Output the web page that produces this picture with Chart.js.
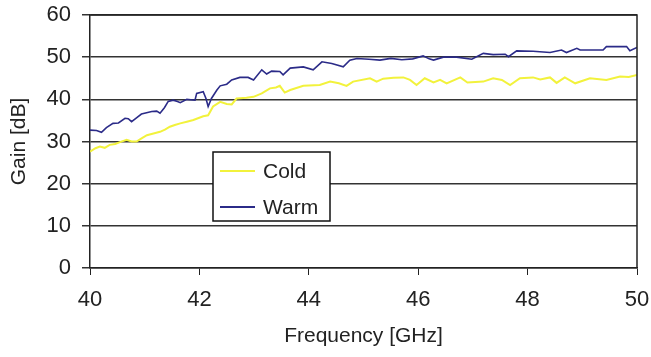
<!DOCTYPE html>
<html>
<head>
<meta charset="utf-8">
<script src="https://cdn.jsdelivr.net/npm/chart.js@4.4.1/dist/chart.umd.min.js"></script>
<style>
  html, body { margin: 0; padding: 0; background: #fff; }
  #wrap { width: 651px; height: 357px; position: relative; }
</style>
</head>
<body>
<div id="wrap"><canvas id="gain-canvas" width="651" height="357"></canvas></div>
<script>
// measured gain vs frequency
var warmFreq = [40.00, 40.12, 40.21, 40.30, 40.42, 40.52, 40.64, 40.70, 40.76, 40.85, 40.94, 41.13, 41.22, 41.28, 41.36,
    41.43, 41.52, 41.60, 41.65, 41.77, 41.92, 41.95, 42.07, 42.12, 42.16, 42.22, 42.32, 42.38, 42.50, 42.59, 42.74,
    42.89, 42.99, 43.14, 43.23, 43.32, 43.47, 43.53, 43.66, 43.90, 44.08, 44.24, 44.42, 44.63, 44.75, 44.88, 45.10,
    45.30, 45.50, 45.70, 45.90, 46.09, 46.20, 46.28, 46.46, 46.70, 46.98, 47.19, 47.37, 47.59, 47.65, 47.80, 48.10,
    48.41, 48.62, 48.71, 48.90, 48.96, 49.38, 49.44, 49.81, 49.87, 50.00];
var warmGain = [32.7, 32.6, 32.2, 33.3, 34.3, 34.4, 35.5, 35.4, 34.7, 35.6, 36.5, 37.1, 37.2, 36.7, 38.0,
    39.5, 39.8, 39.5, 39.2, 40.0, 39.8, 41.4, 41.8, 40.2, 38.3, 40.2, 42.2, 43.2, 43.6, 44.6, 45.2,
    45.2, 44.6, 47.0, 46.0, 46.7, 46.6, 45.8, 47.4, 47.7, 47.0, 48.9, 48.5, 47.7, 49.3, 49.7, 49.5,
    49.3, 49.7, 49.4, 49.6, 50.3, 49.6, 49.3, 50.0, 50.0, 49.5, 50.9, 50.6, 50.7, 50.1, 51.5, 51.4,
    51.1, 51.7, 51.1, 52.1, 51.7, 51.7, 52.5, 52.5, 51.5, 52.3];

var coldFreq = [40.00, 40.10, 40.18, 40.27, 40.36, 40.46, 40.56, 40.67, 40.76, 40.85, 40.95, 41.04, 41.16, 41.28, 41.37,
    41.46, 41.55, 41.65, 41.77, 41.89, 42.07, 42.16, 42.25, 42.38, 42.50, 42.59, 42.68, 42.86, 42.99, 43.14, 43.29,
    43.40, 43.47, 43.56, 43.66, 43.90, 44.20, 44.39, 44.55, 44.69, 44.81, 45.12, 45.24, 45.36, 45.55, 45.73, 45.85,
    45.97, 46.12, 46.28, 46.40, 46.52, 46.77, 46.90, 47.19, 47.37, 47.53, 47.68, 47.86, 48.10, 48.23, 48.41, 48.53,
    48.68, 48.87, 49.14, 49.44, 49.69, 49.85, 50.00];
var coldGain = [27.6, 28.4, 28.8, 28.5, 29.2, 29.4, 29.9, 30.4, 30.0, 30.0, 30.8, 31.5, 31.9, 32.3, 32.8,
    33.5, 33.9, 34.3, 34.7, 35.1, 36.0, 36.2, 38.3, 39.4, 38.9, 38.8, 40.2, 40.4, 40.6, 41.4, 42.6,
    42.8, 43.2, 41.6, 42.2, 43.2, 43.4, 44.2, 43.8, 43.2, 44.2, 45.0, 44.2, 44.9, 45.1, 45.2, 44.6,
    43.4, 45.0, 44.0, 44.6, 43.8, 45.2, 44.0, 44.2, 45.0, 44.6, 43.4, 45.0, 45.2, 44.7, 45.2, 43.9,
    45.2, 43.8, 45.0, 44.6, 45.4, 45.3, 45.8];

var seriesNames = ['Cold', 'Warm'];
var seriesColors = ['#f2f23c', '#2b2b88'];

var toPoints = (xs, ys) => xs.map((x, i) => ({ x: x, y: ys[i] }));

var family = '"Liberation Sans", Arial, sans-serif';
var tickFont = { family: family, size: 22 };
var titleFont = { family: family, size: 21 };

// frame round the plot area
var plotFrame = {
    id: 'plotFrame',
    afterDatasetsDraw(chart) {
        var a = chart.chartArea, ctx = chart.ctx;
        ctx.save();
        ctx.strokeStyle = '#222';
        ctx.lineWidth = 1.5;
        ctx.beginPath();
        ctx.moveTo(a.left, a.top);
        ctx.lineTo(a.right, a.top);
        ctx.lineTo(a.right, a.bottom);
        ctx.stroke();
        ctx.restore();
    }
};

// boxed legend sitting inside the plot
var boxLegend = {
    id: 'boxLegend',
    afterDraw(chart) {
        var ctx = chart.ctx;
        var x = 213, y = 152, w = 117, h = 69;
        ctx.save();
        ctx.fillStyle = '#fff';
        ctx.fillRect(x, y, w, h);
        ctx.strokeStyle = '#111';
        ctx.lineWidth = 1.5;
        ctx.strokeRect(x, y, w, h);
        ctx.font = '21px ' + family;
        ctx.textBaseline = 'middle';
        chart.data.datasets.forEach((ds, i) => {
            var ly = y + 19 + i * 36;
            ctx.strokeStyle = ds.borderColor;
            ctx.lineWidth = 2;
            ctx.beginPath();
            ctx.moveTo(x + 7, ly);
            ctx.lineTo(x + 42, ly);
            ctx.stroke();
            ctx.fillStyle = '#222';
            ctx.fillText(ds.label, x + 50, ly + 1);
        });
        ctx.restore();
    }
};

new Chart('gain-canvas', {
    type: 'line',
    data: {
        datasets: [
            { label: seriesNames[0], data: toPoints(coldFreq, coldGain), borderColor: seriesColors[0], borderWidth: 2 },
            { label: seriesNames[1], data: toPoints(warmFreq, warmGain), borderColor: seriesColors[1], borderWidth: 1.6 }
        ]
    },
    options: {
        responsive: false,
        animation: false,
        layout: { padding: { left: 0, right: 14, top: 15, bottom: 0 } },
        elements: { point: { radius: 0 }, line: { tension: 0 } },
        plugins: { legend: { display: false }, tooltip: { enabled: false } },
        scales: {
            x: {
                type: 'linear',
                min: 40, max: 50,
                ticks: { stepSize: 2, color: '#222', font: tickFont, padding: 12, maxRotation: 0 },
                grid: { drawOnChartArea: false, drawTicks: true, tickLength: 7, color: '#222' },
                border: { color: '#222', width: 1.5 },
                title: { display: true, text: 'Frequency [GHz]', color: '#222', font: titleFont, padding: { top: 0, bottom: 8 } },
                afterFit(scale) {
                    scale.height = 89;
                    scale.paddingLeft = 0;
                    scale.paddingRight = 0;
                }
            },
            y: {
                min: 0, max: 60,
                ticks: { stepSize: 10, color: '#222', font: tickFont, padding: 11 },
                grid: { color: '#333', lineWidth: 1.5, tickLength: 8 },
                border: { color: '#222', width: 1.5 },
                title: { display: true, text: 'Gain [dB]', color: '#222', font: titleFont, padding: { top: 7, bottom: 0 } },
                afterFit(scale) {
                    scale.width = 90;
                    scale.paddingTop = 0;
                    scale.paddingBottom = 0;
                }
            }
        }
    },
    plugins: [plotFrame, boxLegend]
});
</script>
</body>
</html>
